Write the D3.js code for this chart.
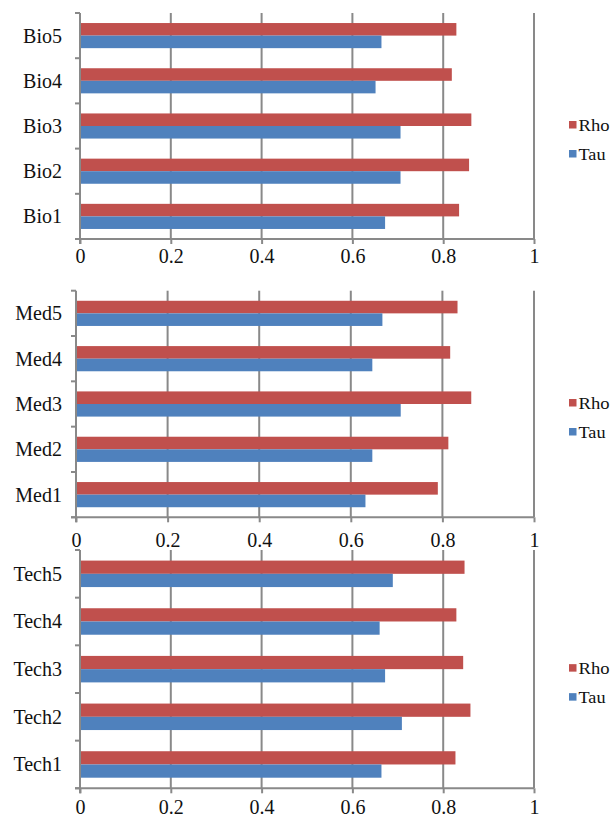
<!DOCTYPE html>
<html><head><meta charset="utf-8">
<script src="https://cdn.jsdelivr.net/npm/d3@7"></script>
<style>body{margin:0;background:#fff}svg{display:block}</style>
</head><body>
<svg id="c" width="612" height="821"></svg>
<script>
const series = ["Rho", "Tau"];
const bioCats = ["Bio1", "Bio2", "Bio3", "Bio4", "Bio5"];
const bioRho = [0.835, 0.857, 0.862, 0.819, 0.829];
const bioTau = [0.672, 0.706, 0.706, 0.651, 0.664];
const medCats = ["Med1", "Med2", "Med3", "Med4", "Med5"];
const medRho = [0.790, 0.813, 0.863, 0.817, 0.833];
const medTau = [0.632, 0.647, 0.709, 0.647, 0.669];
const techCats = ["Tech1", "Tech2", "Tech3", "Tech4", "Tech5"];
const techRho = [0.827, 0.860, 0.844, 0.829, 0.847];
const techTau = [0.664, 0.709, 0.672, 0.660, 0.689];
const xTicks = [0, 0.2, 0.4, 0.6, 0.8, 1];
const xTickLabels = ["0", "0.2", "0.4", "0.6", "0.8", "1"];

const colors = {Rho: "#C0504D", Tau: "#4F81BD"};
const gray = "#898989";
const font = "'Liberation Serif','Times New Roman',serif";

const panels = [
  {cats: bioCats, rho: bioRho, tau: bioTau, x0: 80, x1: 534, top: 13, bottom: 239, lab: 24},
  {cats: medCats, rho: medRho, tau: medTau, x0: 76, x1: 534, top: 290.7, bottom: 517.3, lab: 30},
  {cats: techCats, rho: techRho, tau: techTau, x0: 80, x1: 534, top: 550, bottom: 788.3, lab: 26}
];

const svg = d3.select("#c");

panels.forEach(p => {
  const g = svg.append("g");
  const x = d3.scaleLinear().domain([0, 1]).range([p.x0, p.x1]);
  const y = d3.scaleBand().domain(p.cats.slice().reverse()).range([p.top, p.bottom])
    .paddingInner(0.8 / 1.8).paddingOuter(0.4 / 1.8);
  const yb = d3.scaleBand().domain(series).range([0, y.bandwidth()]);

  // gridlines
  g.selectAll(".grid").data(xTicks.slice(1)).join("line")
    .attr("x1", d => x(d)).attr("x2", d => x(d))
    .attr("y1", p.top).attr("y2", p.bottom)
    .attr("stroke", gray).attr("stroke-width", 2);

  // bars
  const rows = p.cats.map((c, i) => ({cat: c, Rho: p.rho[i], Tau: p.tau[i]}));
  rows.forEach(r => {
    series.forEach(s => {
      g.append("rect")
        .attr("x", x(0))
        .attr("y", y(r.cat) + yb(s))
        .attr("width", x(r[s]) - x(0))
        .attr("height", yb.bandwidth())
        .attr("fill", colors[s]);
    });
  });

  // left axis with ticks at band boundaries
  const bounds = d3.range(p.cats.length + 1).map(i => p.top + i * (p.bottom - p.top) / p.cats.length);
  g.append("line").attr("x1", x(0)).attr("x2", x(0)).attr("y1", p.top).attr("y2", p.bottom + 5)
    .attr("stroke", gray).attr("stroke-width", 2);
  g.selectAll(".yt").data(bounds).join("line")
    .attr("x1", x(0) - 5).attr("x2", x(0)).attr("y1", d => d).attr("y2", d => d)
    .attr("stroke", gray).attr("stroke-width", 2);

  // bottom axis
  const xAxis = d3.axisBottom(x).tickValues(xTicks).tickFormat((d, i) => xTickLabels[i])
    .tickSize(5).tickSizeOuter(0).tickPadding(p.lab - 19);
  const ax = g.append("g").attr("transform", `translate(0,${p.bottom})`).call(xAxis);
  ax.select(".domain").attr("stroke", gray).attr("stroke-width", 2)
    .attr("d", `M${x(0) - 5},0H${x(1)}`);
  ax.selectAll(".tick line").attr("stroke", gray).attr("stroke-width", 2);
  ax.selectAll(".tick text").attr("fill", "#111").attr("font-family", font).attr("font-size", 20);

  // category labels
  g.selectAll(".cl").data(p.cats).join("text")
    .attr("x", 62).attr("y", d => y(d) + y.bandwidth() / 2)
    .attr("dy", "0.35em").attr("text-anchor", "end")
    .attr("font-family", font).attr("font-size", 20).attr("fill", "#111")
    .text(d => d);

  // legend
  const cy = (p.top + p.bottom) / 2;
  series.forEach((s, i) => {
    const ly = cy - 1 + i * 29;
    g.append("rect").attr("x", 569).attr("y", ly - 4).attr("width", 7.5).attr("height", 7.5)
      .attr("fill", colors[s]);
    g.append("text").attr("x", 578.5).attr("y", ly).attr("dy", "0.35em")
      .attr("font-family", font).attr("font-size", 16).attr("fill", "#111")
      .attr("textLength", s === "Rho" ? 31 : 27).attr("lengthAdjust", "spacingAndGlyphs")
      .text(s);
  });
});
</script>
</body></html>
